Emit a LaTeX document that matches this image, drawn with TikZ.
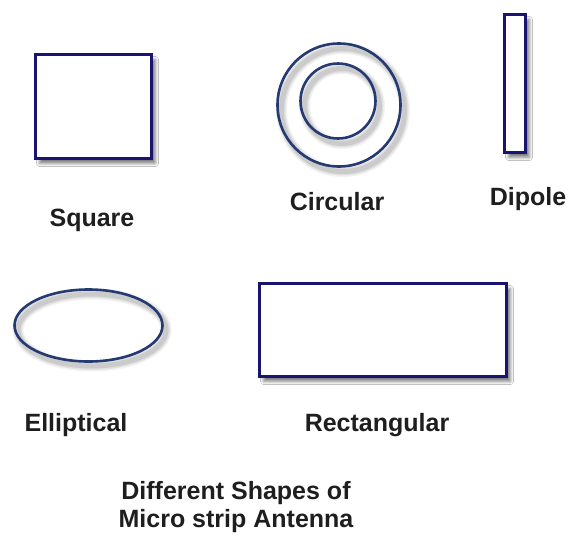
\documentclass[tikz,border=0pt]{standalone}
\usepackage{fontspec}
\setmainfont{Liberation Sans}
\usetikzlibrary{shapes.geometric,shadows.blur}
\definecolor{rectblue}{RGB}{24,20,112}
\definecolor{ringblue}{RGB}{36,58,112}
\definecolor{txt}{RGB}{30,30,30}
\tikzset{
  patch/.style={draw=rectblue, line width=3pt, fill=white, inner sep=0pt, outer sep=0pt,
    blur shadow={shadow xshift=4pt, shadow yshift=-5pt, shadow blur steps=6, shadow opacity=50, shadow blur radius=3pt}},
  ring/.style={draw=ringblue, line width=2.6pt, inner sep=0pt, outer sep=0pt},
  ringshadow/.style={draw=black, opacity=#1, inner sep=0pt, outer sep=0pt},
  lab/.style={font=\bfseries\fontsize{25}{28}\selectfont, text=txt, inner sep=0pt}
}
\begin{document}
\begin{tikzpicture}[x=1pt,y=-1pt]
\useasboundingbox (0,0) rectangle (571,536);
\fill[white] (0,0) rectangle (571,536);
% Square
\node[patch, rectangle, minimum width=116pt, minimum height=104pt] (square) at (93.5,106.5) {};
% Dipole
\node[patch, rectangle, minimum width=21pt, minimum height=138pt] (dipole) at (515,83.5) {};
% Rectangular
\node[patch, rectangle, minimum width=247pt, minimum height=93pt] (rect) at (383,330) {};
% Circular shadows
\foreach \w/\o in {11/0.05, 8/0.07, 5/0.09} {
  \draw[ringshadow=\o, line width=\w pt] (343,110) circle (61.5);
  \draw[ringshadow=\o, line width=\w pt] (342,106) circle (37.5);
}
\node[ring, circle, minimum size=123pt] (outer) at (339,105) {};
\node[ring, circle, minimum size=75pt] (inner) at (338,101) {};
% Elliptical shadow
\foreach \w/\o in {11/0.05, 8/0.07, 5/0.09} {
  \draw[ringshadow=\o, line width=\w pt] (92,330) ellipse (74 and 36);
}
\node[ring, ellipse, minimum width=148pt, minimum height=72pt] (ellip) at (88.5,325.5) {};
% Labels
\node[lab] (lsquare) at (92,220) {Square};
\node[lab] (lcirc) at (337,202) {Circular};
\node[lab] (ldip) at (528,199) {Dipole};
\node[lab] (lell) at (76,425) {Elliptical};
\node[lab] (lrect) at (377,425) {Rectangular};
\node[lab, align=center] (title) at (236,507) {Different Shapes of\\Micro strip Antenna};
\end{tikzpicture}
\end{document}
